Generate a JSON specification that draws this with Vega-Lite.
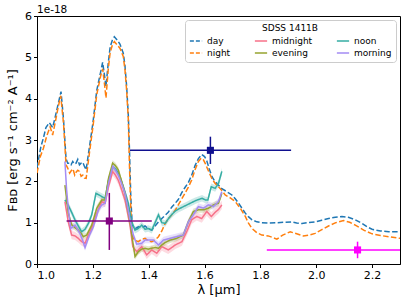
{
  "$schema": "https://vega.github.io/schema/vega-lite/v6.json",
  "width": 363,
  "height": 248,
  "autosize": {"type": "none"},
  "padding": {"left": 37, "top": 16, "right": 7, "bottom": 40},
  "background": "white",
  "title": {"text": "1e-18", "anchor": "start", "frame": "group", "fontSize": 10.5, "fontWeight": "normal", "font": "DejaVu Sans", "offset": -5, "color": "black"},
  "config": {
    "font": "DejaVu Sans",
    "view": {"stroke": "black", "strokeWidth": 1},
    "axis": {"grid": false, "domainColor": "black", "tickColor": "black", "labelColor": "black", "titleColor": "black", "labelFontSize": 11, "titleFontSize": 13, "titleFontWeight": "normal", "tickSize": 3.5, "labelPadding": 2}
  },
  "datasets": {
    "errs": [
      {"s": "midnight", "e": 0.1},
      {"s": "evening", "e": 0.07},
      {"s": "noon", "e": 0.08},
      {"s": "morning", "e": 0.08}
    ],
    "phot": [
      {"b": "J", "x": 1.259, "xlo": 1.106, "xhi": 1.411, "y": 1.04, "ylo": 0.34, "yhi": 1.72},
      {"b": "H", "x": 1.621, "xlo": 1.333, "xhi": 1.91, "y": 2.75, "ylo": 2.42, "yhi": 3.08},
      {"b": "K", "x": 2.148, "xlo": 1.823, "xhi": 2.3, "y": 0.34, "ylo": 0.14, "yhi": 0.54}
    ],
    "spec": [
      {"s":"day","x":1.000,"y":2.33},{"s":"day","x":1.014,"y":2.84},{"s":"day","x":1.023,"y":3.05},{"s":"day","x":1.032,"y":3.30},{"s":"day","x":1.044,"y":3.42},{"s":"day","x":1.056,"y":3.30},{"s":"day","x":1.065,"y":3.55},{"s":"day","x":1.075,"y":3.85},{"s":"day","x":1.086,"y":4.17},{"s":"day","x":1.095,"y":3.5},{"s":"day","x":1.104,"y":2.55},{"s":"day","x":1.110,"y":2.44},{"s":"day","x":1.116,"y":2.44},{"s":"day","x":1.122,"y":2.40},{"s":"day","x":1.128,"y":2.48},{"s":"day","x":1.134,"y":2.42},{"s":"day","x":1.140,"y":2.44},{"s":"day","x":1.146,"y":2.53},{"s":"day","x":1.152,"y":2.40},{"s":"day","x":1.158,"y":2.44},{"s":"day","x":1.164,"y":2.46},{"s":"day","x":1.170,"y":2.36},{"s":"day","x":1.176,"y":2.28},{"s":"day","x":1.188,"y":2.84},{"s":"day","x":1.200,"y":3.40},{"s":"day","x":1.214,"y":4.20},{"s":"day","x":1.228,"y":4.65},{"s":"day","x":1.235,"y":4.88},{"s":"day","x":1.241,"y":4.60},{"s":"day","x":1.247,"y":4.30},{"s":"day","x":1.255,"y":4.85},{"s":"day","x":1.262,"y":5.25},{"s":"day","x":1.270,"y":5.42},{"s":"day","x":1.277,"y":5.50},{"s":"day","x":1.287,"y":5.42},{"s":"day","x":1.297,"y":5.32},{"s":"day","x":1.309,"y":5.10},{"s":"day","x":1.315,"y":4.80},{"s":"day","x":1.321,"y":4.30},{"s":"day","x":1.327,"y":3.60},{"s":"day","x":1.331,"y":2.8},{"s":"day","x":1.336,"y":1.6},{"s":"day","x":1.341,"y":0.95},{"s":"day","x":1.350,"y":0.85},{"s":"day","x":1.363,"y":0.90},{"s":"day","x":1.375,"y":0.88},{"s":"day","x":1.387,"y":0.92},{"s":"day","x":1.399,"y":0.85},{"s":"day","x":1.411,"y":0.82},{"s":"day","x":1.423,"y":0.92},{"s":"day","x":1.435,"y":1.02},{"s":"day","x":1.447,"y":1.10},{"s":"day","x":1.459,"y":1.18},{"s":"day","x":1.470,"y":1.25},{"s":"day","x":1.483,"y":1.38},{"s":"day","x":1.495,"y":1.47},{"s":"day","x":1.506,"y":1.56},{"s":"day","x":1.518,"y":1.72},{"s":"day","x":1.530,"y":1.85},{"s":"day","x":1.542,"y":1.97},{"s":"day","x":1.554,"y":2.15},{"s":"day","x":1.566,"y":2.38},{"s":"day","x":1.578,"y":2.55},{"s":"day","x":1.590,"y":2.65},{"s":"day","x":1.600,"y":2.60},{"s":"day","x":1.608,"y":2.50},{"s":"day","x":1.617,"y":2.30},{"s":"day","x":1.626,"y":2.12},{"s":"day","x":1.635,"y":2.02},{"s":"day","x":1.644,"y":1.95},{"s":"day","x":1.654,"y":1.88},{"s":"day","x":1.662,"y":1.82},{"s":"day","x":1.680,"y":1.75},{"s":"day","x":1.698,"y":1.67},{"s":"day","x":1.710,"y":1.58},{"s":"day","x":1.722,"y":1.47},{"s":"day","x":1.734,"y":1.35},{"s":"day","x":1.746,"y":1.23},{"s":"day","x":1.758,"y":1.14},{"s":"day","x":1.770,"y":1.07},{"s":"day","x":1.787,"y":1.02},{"s":"day","x":1.805,"y":1.00},{"s":"day","x":1.830,"y":0.99},{"s":"day","x":1.860,"y":1.00},{"s":"day","x":1.890,"y":1.01},{"s":"day","x":1.913,"y":1.02},{"s":"day","x":1.930,"y":0.99},{"s":"day","x":1.949,"y":0.98},{"s":"day","x":1.970,"y":1.00},{"s":"day","x":1.996,"y":1.02},{"s":"day","x":2.020,"y":1.06},{"s":"day","x":2.044,"y":1.10},{"s":"day","x":2.068,"y":1.13},{"s":"day","x":2.092,"y":1.15},{"s":"day","x":2.115,"y":1.13},{"s":"day","x":2.140,"y":1.07},{"s":"day","x":2.165,"y":0.98},{"s":"day","x":2.185,"y":0.89},{"s":"day","x":2.200,"y":0.84},{"s":"day","x":2.230,"y":0.80},{"s":"day","x":2.260,"y":0.78},{"s":"day","x":2.300,"y":0.78},
      {"s":"night","x":1.000,"y":2.20},{"s":"night","x":1.012,"y":2.60},{"s":"night","x":1.023,"y":2.80},{"s":"night","x":1.035,"y":3.10},{"s":"night","x":1.047,"y":3.32},{"s":"night","x":1.056,"y":3.12},{"s":"night","x":1.066,"y":3.45},{"s":"night","x":1.076,"y":3.80},{"s":"night","x":1.085,"y":4.07},{"s":"night","x":1.095,"y":3.40},{"s":"night","x":1.104,"y":2.40},{"s":"night","x":1.110,"y":2.32},{"s":"night","x":1.117,"y":2.20},{"s":"night","x":1.123,"y":2.26},{"s":"night","x":1.129,"y":2.30},{"s":"night","x":1.135,"y":2.15},{"s":"night","x":1.140,"y":2.22},{"s":"night","x":1.146,"y":2.27},{"s":"night","x":1.152,"y":2.24},{"s":"night","x":1.158,"y":2.12},{"s":"night","x":1.164,"y":2.15},{"s":"night","x":1.170,"y":2.08},{"s":"night","x":1.176,"y":2.07},{"s":"night","x":1.188,"y":2.70},{"s":"night","x":1.200,"y":3.30},{"s":"night","x":1.214,"y":4.10},{"s":"night","x":1.228,"y":4.55},{"s":"night","x":1.235,"y":4.72},{"s":"night","x":1.241,"y":4.40},{"s":"night","x":1.247,"y":4.02},{"s":"night","x":1.255,"y":4.70},{"s":"night","x":1.262,"y":5.12},{"s":"night","x":1.270,"y":5.30},{"s":"night","x":1.277,"y":5.38},{"s":"night","x":1.287,"y":5.30},{"s":"night","x":1.297,"y":5.22},{"s":"night","x":1.309,"y":5.02},{"s":"night","x":1.315,"y":4.70},{"s":"night","x":1.321,"y":4.20},{"s":"night","x":1.327,"y":3.50},{"s":"night","x":1.331,"y":2.4},{"s":"night","x":1.336,"y":1.3},{"s":"night","x":1.341,"y":0.70},{"s":"night","x":1.348,"y":0.58},{"s":"night","x":1.363,"y":0.54},{"s":"night","x":1.375,"y":0.60},{"s":"night","x":1.387,"y":0.62},{"s":"night","x":1.399,"y":0.56},{"s":"night","x":1.411,"y":0.54},{"s":"night","x":1.423,"y":0.58},{"s":"night","x":1.435,"y":0.66},{"s":"night","x":1.447,"y":0.80},{"s":"night","x":1.459,"y":0.98},{"s":"night","x":1.471,"y":1.10},{"s":"night","x":1.483,"y":1.19},{"s":"night","x":1.495,"y":1.30},{"s":"night","x":1.506,"y":1.43},{"s":"night","x":1.518,"y":1.57},{"s":"night","x":1.530,"y":1.71},{"s":"night","x":1.542,"y":1.86},{"s":"night","x":1.554,"y":2.03},{"s":"night","x":1.566,"y":2.28},{"s":"night","x":1.578,"y":2.48},{"s":"night","x":1.588,"y":2.56},{"s":"night","x":1.596,"y":2.52},{"s":"night","x":1.602,"y":2.44},{"s":"night","x":1.614,"y":2.25},{"s":"night","x":1.626,"y":2.07},{"s":"night","x":1.638,"y":1.95},{"s":"night","x":1.650,"y":1.87},{"s":"night","x":1.662,"y":1.78},{"s":"night","x":1.674,"y":1.67},{"s":"night","x":1.692,"y":1.60},{"s":"night","x":1.710,"y":1.51},{"s":"night","x":1.728,"y":1.35},{"s":"night","x":1.746,"y":1.15},{"s":"night","x":1.758,"y":0.98},{"s":"night","x":1.770,"y":0.86},{"s":"night","x":1.787,"y":0.76},{"s":"night","x":1.805,"y":0.70},{"s":"night","x":1.828,"y":0.68},{"s":"night","x":1.845,"y":0.64},{"s":"night","x":1.859,"y":0.60},{"s":"night","x":1.880,"y":0.70},{"s":"night","x":1.907,"y":0.78},{"s":"night","x":1.930,"y":0.73},{"s":"night","x":1.954,"y":0.68},{"s":"night","x":1.975,"y":0.70},{"s":"night","x":1.996,"y":0.74},{"s":"night","x":2.020,"y":0.83},{"s":"night","x":2.044,"y":0.92},{"s":"night","x":2.070,"y":1.00},{"s":"night","x":2.098,"y":1.05},{"s":"night","x":2.120,"y":1.01},{"s":"night","x":2.140,"y":0.94},{"s":"night","x":2.170,"y":0.82},{"s":"night","x":2.200,"y":0.73},{"s":"night","x":2.230,"y":0.69},{"s":"night","x":2.260,"y":0.66},{"s":"night","x":2.300,"y":0.62},
      {"s":"noon","x":1.100,"y":1.55},{"s":"noon","x":1.112,"y":1.42},{"s":"noon","x":1.124,"y":1.25},{"s":"noon","x":1.136,"y":1.07},{"s":"noon","x":1.148,"y":0.92},{"s":"noon","x":1.160,"y":0.78},{"s":"noon","x":1.172,"y":0.84},{"s":"noon","x":1.184,"y":0.98},{"s":"noon","x":1.196,"y":1.19},{"s":"noon","x":1.211,"y":1.71},{"s":"noon","x":1.222,"y":1.67},{"s":"noon","x":1.232,"y":1.63},{"s":"noon","x":1.244,"y":1.59},{"s":"noon","x":1.256,"y":2.03},{"s":"noon","x":1.271,"y":2.35},{"s":"noon","x":1.281,"y":2.30},{"s":"noon","x":1.291,"y":2.20},{"s":"noon","x":1.300,"y":2.05},{"s":"noon","x":1.309,"y":1.87},{"s":"noon","x":1.318,"y":1.68},{"s":"noon","x":1.327,"y":1.47},{"s":"noon","x":1.339,"y":1.02},{"s":"noon","x":1.351,"y":0.82},{"s":"noon","x":1.363,"y":0.86},{"s":"noon","x":1.375,"y":0.94},{"s":"noon","x":1.387,"y":0.84},{"s":"noon","x":1.399,"y":0.86},{"s":"noon","x":1.411,"y":0.82},{"s":"noon","x":1.423,"y":1.00},{"s":"noon","x":1.435,"y":1.19},{"s":"noon","x":1.447,"y":1.00},{"s":"noon","x":1.459,"y":0.98},{"s":"noon","x":1.471,"y":1.10},{"s":"noon","x":1.483,"y":1.20},{"s":"noon","x":1.495,"y":1.28},{"s":"noon","x":1.507,"y":1.33},{"s":"noon","x":1.519,"y":1.37},{"s":"noon","x":1.531,"y":1.41},{"s":"noon","x":1.543,"y":1.45},{"s":"noon","x":1.555,"y":1.49},{"s":"noon","x":1.567,"y":1.53},{"s":"noon","x":1.579,"y":1.56},{"s":"noon","x":1.591,"y":1.59},{"s":"noon","x":1.603,"y":1.55},{"s":"noon","x":1.612,"y":1.55},{"s":"noon","x":1.624,"y":1.87},{"s":"noon","x":1.638,"y":1.83},{"s":"noon","x":1.650,"y":1.95},{"s":"noon","x":1.662,"y":2.24},
      {"s":"midnight","x":1.100,"y":1.51},{"s":"midnight","x":1.112,"y":1.02},{"s":"midnight","x":1.124,"y":0.70},{"s":"midnight","x":1.136,"y":0.68},{"s":"midnight","x":1.148,"y":0.62},{"s":"midnight","x":1.160,"y":0.54},{"s":"midnight","x":1.172,"y":0.50},{"s":"midnight","x":1.184,"y":0.70},{"s":"midnight","x":1.196,"y":0.86},{"s":"midnight","x":1.214,"y":1.23},{"s":"midnight","x":1.232,"y":1.51},{"s":"midnight","x":1.244,"y":1.47},{"s":"midnight","x":1.256,"y":1.87},{"s":"midnight","x":1.271,"y":2.24},{"s":"midnight","x":1.281,"y":2.15},{"s":"midnight","x":1.291,"y":2.03},{"s":"midnight","x":1.303,"y":1.80},{"s":"midnight","x":1.315,"y":1.55},{"s":"midnight","x":1.333,"y":0.94},{"s":"midnight","x":1.343,"y":0.42},{"s":"midnight","x":1.357,"y":0.30},{"s":"midnight","x":1.375,"y":0.42},{"s":"midnight","x":1.393,"y":0.22},{"s":"midnight","x":1.411,"y":0.34},{"s":"midnight","x":1.429,"y":0.26},{"s":"midnight","x":1.447,"y":0.42},{"s":"midnight","x":1.459,"y":0.38},{"s":"midnight","x":1.470,"y":0.34},{"s":"midnight","x":1.483,"y":0.40},{"s":"midnight","x":1.495,"y":0.46},{"s":"midnight","x":1.507,"y":0.50},{"s":"midnight","x":1.519,"y":0.54},{"s":"midnight","x":1.536,"y":0.78},{"s":"midnight","x":1.554,"y":1.07},{"s":"midnight","x":1.572,"y":1.15},{"s":"midnight","x":1.590,"y":1.10},{"s":"midnight","x":1.608,"y":1.27},{"s":"midnight","x":1.624,"y":1.15},{"s":"midnight","x":1.638,"y":1.25},{"s":"midnight","x":1.650,"y":1.32},{"s":"midnight","x":1.662,"y":1.43},
      {"s":"evening","x":1.100,"y":1.91},{"s":"evening","x":1.112,"y":1.23},{"s":"evening","x":1.124,"y":0.95},{"s":"evening","x":1.136,"y":0.88},{"s":"evening","x":1.148,"y":0.82},{"s":"evening","x":1.160,"y":0.72},{"s":"evening","x":1.166,"y":0.66},{"s":"evening","x":1.178,"y":0.70},{"s":"evening","x":1.196,"y":0.94},{"s":"evening","x":1.214,"y":1.35},{"s":"evening","x":1.232,"y":1.55},{"s":"evening","x":1.244,"y":1.55},{"s":"evening","x":1.256,"y":2.07},{"s":"evening","x":1.271,"y":2.44},{"s":"evening","x":1.281,"y":2.38},{"s":"evening","x":1.291,"y":2.28},{"s":"evening","x":1.303,"y":2.00},{"s":"evening","x":1.315,"y":1.71},{"s":"evening","x":1.333,"y":1.02},{"s":"evening","x":1.343,"y":0.54},{"s":"evening","x":1.351,"y":0.18},{"s":"evening","x":1.363,"y":0.30},{"s":"evening","x":1.375,"y":0.36},{"s":"evening","x":1.387,"y":0.38},{"s":"evening","x":1.399,"y":0.36},{"s":"evening","x":1.411,"y":0.38},{"s":"evening","x":1.423,"y":0.40},{"s":"evening","x":1.435,"y":0.38},{"s":"evening","x":1.447,"y":0.46},{"s":"evening","x":1.459,"y":0.52},{"s":"evening","x":1.477,"y":0.58},{"s":"evening","x":1.500,"y":0.62},{"s":"evening","x":1.524,"y":0.70},{"s":"evening","x":1.542,"y":1.02},{"s":"evening","x":1.560,"y":1.27},{"s":"evening","x":1.578,"y":1.31},{"s":"evening","x":1.596,"y":1.31},{"s":"evening","x":1.614,"y":1.35},{"s":"evening","x":1.632,"y":1.43},{"s":"evening","x":1.650,"y":1.47},{"s":"evening","x":1.662,"y":1.71},
      {"s":"morning","x":1.100,"y":2.48},{"s":"morning","x":1.106,"y":1.80},{"s":"morning","x":1.112,"y":1.35},{"s":"morning","x":1.121,"y":0.86},{"s":"morning","x":1.136,"y":0.94},{"s":"morning","x":1.154,"y":0.74},{"s":"morning","x":1.163,"y":0.58},{"s":"morning","x":1.172,"y":0.40},{"s":"morning","x":1.188,"y":0.70},{"s":"morning","x":1.202,"y":0.90},{"s":"morning","x":1.220,"y":1.31},{"s":"morning","x":1.232,"y":1.43},{"s":"morning","x":1.244,"y":1.47},{"s":"morning","x":1.256,"y":1.95},{"s":"morning","x":1.271,"y":2.36},{"s":"morning","x":1.281,"y":2.27},{"s":"morning","x":1.291,"y":2.15},{"s":"morning","x":1.303,"y":1.95},{"s":"morning","x":1.315,"y":1.71},{"s":"morning","x":1.333,"y":1.07},{"s":"morning","x":1.345,"y":0.70},{"s":"morning","x":1.357,"y":0.48},{"s":"morning","x":1.375,"y":0.50},{"s":"morning","x":1.387,"y":0.58},{"s":"morning","x":1.399,"y":0.58},{"s":"morning","x":1.417,"y":0.58},{"s":"morning","x":1.435,"y":0.46},{"s":"morning","x":1.453,"y":0.58},{"s":"morning","x":1.477,"y":0.62},{"s":"morning","x":1.500,"y":0.66},{"s":"morning","x":1.524,"y":0.70},{"s":"morning","x":1.542,"y":1.02},{"s":"morning","x":1.560,"y":1.19},{"s":"morning","x":1.578,"y":1.39},{"s":"morning","x":1.596,"y":1.35},{"s":"morning","x":1.614,"y":1.43},{"s":"morning","x":1.632,"y":1.39},{"s":"morning","x":1.650,"y":1.51},{"s":"morning","x":1.662,"y":1.75}
    ]
  },
  "layer": [
    {
      "data": {"name": "spec"},
      "transform": [
        {"filter": "datum.s != 'day' && datum.s != 'night'"},
        {"lookup": "s", "from": {"data": {"name": "errs"}, "key": "s", "fields": ["e"]}}
      ],
      "mark": {"type": "errorband", "opacity": 0.25, "clip": true},
      "encoding": {
        "x": {"field": "x", "type": "quantitative", "title": "λ [μm]"},
        "y": {"field": "y", "type": "quantitative", "title": "Fʙᴅ [erg s⁻¹ cm⁻² A⁻¹]"},
        "yError": {"field": "e"},
        "color": {"field": "s", "type": "nominal", "legend": null,
          "scale": {"domain": ["midnight", "evening", "noon", "morning"], "range": ["#f77189", "#97a431", "#36ada4", "#a48cf4"]}}
      }
    },
    {
      "data": {"name": "spec"},
      "mark": {"type": "line", "strokeWidth": 1.5, "clip": true},
      "encoding": {
        "x": {"field": "x", "type": "quantitative", "title": "λ [μm]", "scale": {"domain": [1.0, 2.3], "nice": false, "zero": false},
              "axis": {"values": [1.0, 1.2, 1.4, 1.6, 1.8, 2.0, 2.2], "format": ".1f", "titlePadding": 3}},
        "y": {"field": "y", "type": "quantitative", "title": "Fʙᴅ [erg s⁻¹ cm⁻² A⁻¹]", "scale": {"domain": [0, 6], "nice": false},
              "axis": {"values": [0, 1, 2, 3, 4, 5, 6], "titlePadding": 5}},
        "color": {"field": "s", "type": "nominal", "title": "SDSS 1411B",
          "scale": {"domain": ["day", "night", "midnight", "evening", "noon", "morning"],
                    "range": ["#1f77b4", "#ff7f0e", "#f77189", "#97a431", "#36ada4", "#a48cf4"]},
          "legend": {"orient": "top-right", "offset": 4, "columns": 3,
                     "symbolType": "stroke", "symbolSize": 150, "symbolStrokeWidth": 1.5,
                     "labelFontSize": 9, "titleFontSize": 9, "titleFontWeight": "normal", "titleAnchor": "middle",
                     "strokeColor": "#cccccc", "fillColor": "white", "padding": 4, "cornerRadius": 3,
                     "columnPadding": 20, "rowPadding": 0, "labelOffset": 4, "titlePadding": 1, "labelColor": "black", "titleColor": "black",
                     "encode": {"symbols": {"update": {"strokeDash": {"signal": "(datum.value === 'day' || datum.value === 'night') ? [4, 2] : [1, 0]"}}}}}},
        "strokeDash": {"field": "s", "type": "nominal", "legend": null,
          "scale": {"domain": ["day", "night", "midnight", "evening", "noon", "morning"],
                    "range": [[5.5, 2.4], [5.5, 2.4], [1, 0], [1, 0], [1, 0], [1, 0]]}},
        "order": {"field": "x", "type": "quantitative"}
      }
    },
    {
      "data": {"name": "phot"},
      "mark": {"type": "rule", "strokeWidth": 1.5, "clip": true},
      "encoding": {
        "x": {"field": "xlo", "type": "quantitative", "title": "λ [μm]"},
        "x2": {"field": "xhi"},
        "y": {"field": "y", "type": "quantitative", "title": "Fʙᴅ [erg s⁻¹ cm⁻² A⁻¹]"},
        "color": {"field": "b", "type": "nominal", "scale": {"domain": ["J", "H", "K"], "range": ["#800080", "#10108f", "#ff00ff"]}, "legend": null}
      }
    },
    {
      "data": {"name": "phot"},
      "mark": {"type": "rule", "strokeWidth": 1.5, "clip": true},
      "encoding": {
        "x": {"field": "x", "type": "quantitative", "title": "λ [μm]"},
        "y": {"field": "ylo", "type": "quantitative", "title": "Fʙᴅ [erg s⁻¹ cm⁻² A⁻¹]"},
        "y2": {"field": "yhi"},
        "color": {"field": "b", "type": "nominal", "scale": {"domain": ["J", "H", "K"], "range": ["#800080", "#10108f", "#ff00ff"]}, "legend": null}
      }
    },
    {
      "data": {"name": "phot"},
      "mark": {"type": "point", "shape": "square", "filled": true, "size": 50, "opacity": 1, "clip": true},
      "encoding": {
        "x": {"field": "x", "type": "quantitative", "title": "λ [μm]"},
        "y": {"field": "y", "type": "quantitative", "title": "Fʙᴅ [erg s⁻¹ cm⁻² A⁻¹]"},
        "color": {"field": "b", "type": "nominal", "scale": {"domain": ["J", "H", "K"], "range": ["#800080", "#10108f", "#ff00ff"]}, "legend": null}
      }
    }
  ],
  "resolve": {"scale": {"color": "independent"}}
}
